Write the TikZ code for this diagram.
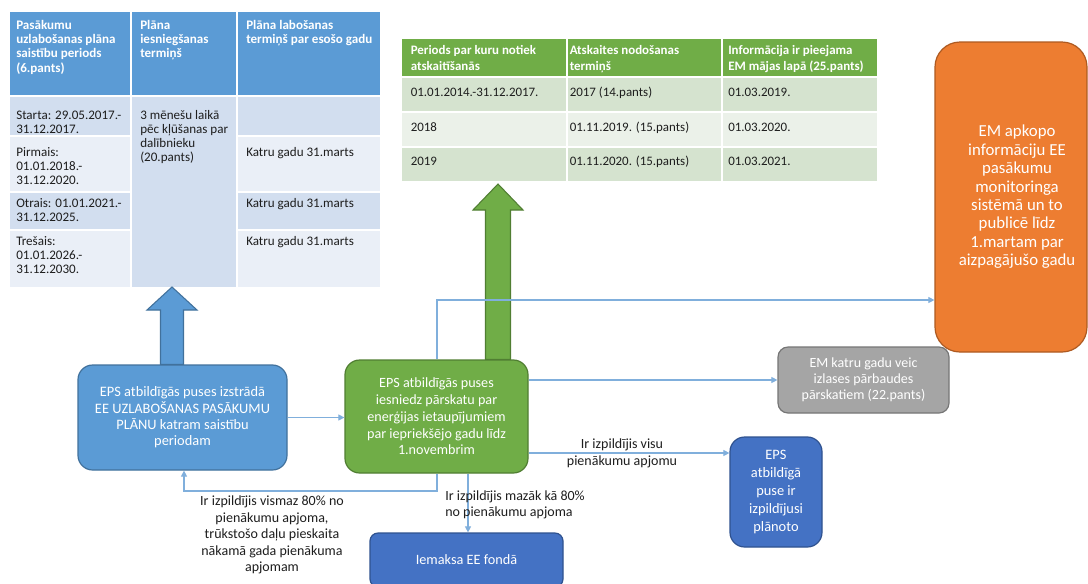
\documentclass[tikz,border=0pt]{standalone}
\usepackage{fontspec}
\setmainfont{Carlito}
\usetikzlibrary{arrows.meta,calc}

\definecolor{hdrblue}{RGB}{91,155,213}
\definecolor{bandA}{RGB}{210,222,239}
\definecolor{bandB}{RGB}{234,239,247}
\definecolor{hdrgreen}{RGB}{112,173,71}
\definecolor{gbandA}{RGB}{213,227,207}
\definecolor{gbandB}{RGB}{235,241,233}
\definecolor{boxblue}{RGB}{91,155,213}
\definecolor{boxblueline}{RGB}{65,113,156}
\definecolor{boxgreen}{RGB}{112,173,71}
\definecolor{boxgreenline}{RGB}{80,126,50}
\definecolor{boxgray}{RGB}{165,165,165}
\definecolor{boxgrayline}{RGB}{118,118,118}
\definecolor{boxdark}{RGB}{68,114,196}
\definecolor{boxdarkline}{RGB}{47,82,143}
\definecolor{boxorange}{RGB}{237,125,49}
\definecolor{boxorangeline}{RGB}{174,90,33}
\definecolor{wire}{RGB}{128,175,220}
\definecolor{ink}{RGB}{30,30,30}

% left-aligned multi-line cell text whose reference point is the first baseline
\newcommand\celltext[1]{\parbox[t]{170pt}{\raggedright #1}}

\begin{document}
\begin{tikzpicture}[x=0.75pt,y=-0.75pt,
  flow/.style={draw, line width=0.9pt, text=white, align=center, inner sep=0pt},
  conn/.style={draw=wire, line width=0.8pt, -{Triangle[length=4.5pt,width=4.5pt]}},
  cell/.style={anchor=base west, inner sep=0pt, text=ink,
               font=\fontsize{9.8}{10.6}\selectfont},
  hcell/.style={anchor=base west, inner sep=0pt, text=white,
               font=\fontsize{9.8}{10.8}\selectfont\bfseries},
  gcell/.style={anchor=base west, inner sep=0pt, text=ink,
               font=\fontsize{9.7}{12}\selectfont},
  ghcell/.style={anchor=base west, inner sep=0pt, text=white,
               font=\fontsize{9.7}{12}\selectfont\bfseries},
  lbl/.style={inner sep=0pt, text=ink, align=center},
  sep/.style={white, line width=1.1pt},
  bigblue/.style={fill=boxblue, draw=boxblueline, line width=0.8pt},
  biggreen/.style={fill=boxgreen, draw=boxgreenline, line width=0.8pt}
]
\clip (0,0) rectangle (1088,583);
\fill[white] (0,0) rectangle (1088,583);

% ---------- table of plan periods ----------
\fill[hdrblue] (10,12) rectangle (380,96);
\fill[bandA] (10,96) rectangle (380,136);
\fill[bandB] (10,136) rectangle (380,192);
\fill[bandA] (10,192) rectangle (380,230);
\fill[bandB] (10,230) rectangle (380,287);
\fill[bandA] (131,96) rectangle (237,287);
\draw[sep] (10,96) -- (380,96);
\foreach \yy in {136,192,230}{
  \draw[sep] (10,\yy) -- (131,\yy);
  \draw[sep] (237,\yy) -- (380,\yy);
}
\draw[sep] (131,12) -- (131,287);
\draw[sep] (237,12) -- (237,287);

\node[hcell] (lh1) at (16,29) {\celltext{Pasākumu\\uzlabošanas plāna\\saistību periods\\(6.pants)}};
\node[hcell] (lh2) at (140,29) {\celltext{Plāna\\iesniegšanas\\termiņš}};
\node[hcell] (lh3) at (246,29) {\celltext{Plāna labošanas\\termiņš par esošo gadu}};

\node[cell] (lr1) at (16,119) {\celltext{Starta: 29.05.2017.-\\31.12.2017.}};
\node[cell] (lr2) at (16,156) {\celltext{Pirmais:\\01.01.2018.-\\31.12.2020.}};
\node[cell] (lr3) at (16,207.5) {\celltext{Otrais: 01.01.2021.-\\31.12.2025.}};
\node[cell] (lr4) at (16,245) {\celltext{Trešais:\\01.01.2026.-\\31.12.2030.}};
\node[cell] (lm) at (140,119) {\celltext{3 mēnešu laikā\\pēc kļūšanas par\\dalībnieku\\(20.pants)}};
\node[cell] (lc2) at (246,156) {Katru gadu 31.marts};
\node[cell] (lc3) at (246,207.5) {Katru gadu 31.marts};
\node[cell] (lc4) at (246,245) {Katru gadu 31.marts};
\coordinate (ltabfoot) at (172,287);

% ---------- table of reporting periods ----------
\fill[hdrgreen] (402,39) rectangle (877,77);
\fill[gbandA] (402,77) rectangle (877,112);
\fill[gbandB] (402,112) rectangle (877,147);
\fill[gbandA] (402,147) rectangle (877,181);
\foreach \yy in {77,112,147}{\draw[sep] (402,\yy) -- (877,\yy);}
\draw[sep] (567,39) -- (567,181);
\draw[sep] (722,39) -- (722,181);

\node[ghcell] (rh1) at (410.5,54) {\celltext{Periods par kuru notiek\\atskaitīšanās}};
\node[ghcell] (rh2) at (569.5,54) {\celltext{Atskaites nodošanas\\termiņš}};
\node[ghcell] (rh3) at (728,54) {\celltext{Informācija ir pieejama\\EM mājas lapā (25.pants)}};
\node[gcell] (r11) at (410.5,96) {01.01.2014.-31.12.2017.};
\node[gcell] (r12) at (569.5,96) {2017 (14.pants)};
\node[gcell] (r13) at (728,96) {01.03.2019.};
\node[gcell] (r21) at (410.5,131) {2018};
\node[gcell] (r22) at (569.5,131) {01.11.2019. (15.pants)};
\node[gcell] (r23) at (728,131) {01.03.2020.};
\node[gcell] (r31) at (410.5,165) {2019};
\node[gcell] (r32) at (569.5,165) {01.11.2020. (15.pants)};
\node[gcell] (r33) at (728,165) {01.03.2021.};
\coordinate (rtabfoot) at (498,184);

% ---------- process boxes ----------
\node[flow, fill=boxblue, draw=boxblueline, rounded corners=11pt,
      minimum width=156.75pt, minimum height=78.75pt,
      font=\fontsize{10.8}{12.2}\selectfont] (lbox) at (182.5,417.5)
  {EPS atbildīgās puses izstrādā\\EE UZLABOŠANAS PASĀKUMU\\PLĀNU katram saistību\\periodam};

\node[flow, fill=boxgreen, draw=boxgreenline, rounded corners=11pt,
      minimum width=137.25pt, minimum height=84.75pt,
      font=\fontsize{10.6}{12.6}\selectfont] (gbox) at (436.5,416.5)
  {EPS atbildīgās puses\\iesniedz pārskatu par\\enerģijas ietaupījumiem\\par iepriekšējo gadu līdz\\1.novembrim};

\node[flow, fill=boxgray, draw=boxgrayline, rounded corners=7.5pt,
      minimum width=128.25pt, minimum height=49.5pt,
      font=\fontsize{10.5}{12}\selectfont] (gray) at (863.5,380)
  {EM katru gadu veic\\izlases pārbaudes\\pārskatiem (22.pants)};

\node[flow, fill=boxdark, draw=boxdarkline, rounded corners=11pt,
      minimum width=69pt, minimum height=82.5pt,
      font=\fontsize{10.8}{13.5}\selectfont] (bsmall) at (776,492)
  {EPS\\atbildīgā\\puse ir\\izpildījusi\\plānoto};

\node[flow, fill=boxdark, draw=boxdarkline, rounded corners=6pt,
      minimum width=144.75pt, minimum height=40.5pt,
      font=\fontsize{10.7}{12.8}\selectfont] (iem) at (466.5,560)
  {Iemaksa EE fondā};

% text block sits a little right of the box centre
\node[flow, fill=boxorange, draw=boxorangeline, rounded corners=18.75pt,
      minimum width=114pt, minimum height=232.5pt,
      font=\fontsize{12.6}{13.8}\selectfont] (obox) at (1011,197)
  {\hspace*{4.5pt}\parbox{106pt}{\centering EM apkopo\\informāciju EE\\pasākumu\\monitoringa\\sistēmā un to\\publicē līdz\\1.martam par\\aizpagājušo gadu}\hspace*{-4.5pt}};

% ---------- block arrows up to the tables ----------
\draw[bigblue] ($(lbox.north -| ltabfoot)+(-11.5,0)$) |- ($(ltabfoot)+(-25,23)$)
   -- (ltabfoot) -- ($(ltabfoot)+(25,23)$) -| ($(lbox.north -| ltabfoot)+(11.5,0)$) -- cycle;
\draw[biggreen] ($(gbox.north -| rtabfoot)+(-12.5,0)$) |- ($(rtabfoot)+(-25,26)$)
   -- (rtabfoot) -- ($(rtabfoot)+(25,26)$) -| ($(gbox.north -| rtabfoot)+(12.5,0)$) -- cycle;

% ---------- connectors ----------
\coordinate (toorange) at (437,300);
\coordinate (okline) at (0,453);
\coordinate (lowline) at (468,0);
\coordinate (fbR) at (437,491);
\coordinate (fbL) at (184,491);

\draw[conn] (lbox.east) -- (lbox.east -| gbox.west);
\draw[conn] (gbox.north -| toorange) |- (obox.west |- toorange);
\draw[conn] (gray.west -| gbox.east) -- (gray.west);
\draw[conn] (gbox.east |- okline) -- (bsmall.west |- okline);
\draw[conn] (gbox.south -| lowline) -- (iem.north -| lowline);
\draw[conn] (gbox.south -| fbR) -- (fbR) -- (fbL) -- (lbox.south -| fbL);

% ---------- connector labels ----------
\node[lbl, font=\fontsize{10.5}{12.75}\selectfont] (lblok) at (622,453.5)
  {Ir izpildījis visu\\pienākumu apjomu};
\node[lbl, anchor=west, align=left, font=\fontsize{10.5}{12}\selectfont] (lbllow) at (445,505)
  {Ir izpildījis mazāk kā 80\%\\no pienākumu apjoma};
\node[lbl, font=\fontsize{10.5}{12.4}\selectfont] (lblfb) at (272,535)
  {Ir izpildījis vismaz 80\% no\\pienākumu apjoma,\\trūkstošo daļu pieskaita\\nākamā gada pienākuma\\apjomam};
\end{tikzpicture}
\end{document}
